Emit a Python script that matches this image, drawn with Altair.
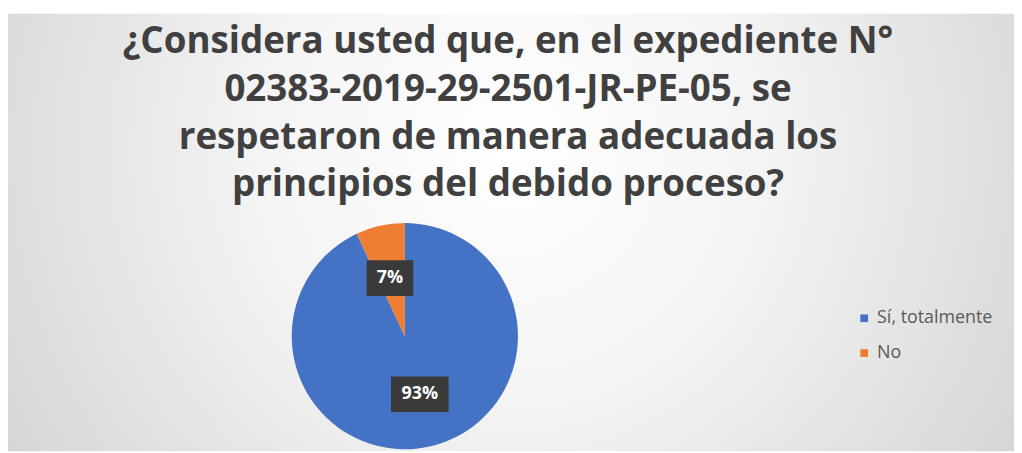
import altair as alt
import pandas as pd

# ---- data ----
categories = ["Sí, totalmente", "No"]
values = [93, 7]
labels = ["93%", "7%"]
colors = ["#4472C4", "#ED7D31"]
title_lines = [
    "¿Considera usted que, en el expediente N°",
    "02383-2019-29-2501-JR-PE-05, se",
    "respetaron de manera adecuada los",
    "principios del debido proceso?",
]

df = pd.DataFrame({
    "category": categories,
    "value": values,
    "label": labels,
    "order": list(range(len(categories))),
})

W, H = 1014, 445
CX, CY, R = 400, 329, 114
RL = 60  # label radius

base = alt.Chart(df).transform_window(
    cum="sum(value)", sort=[alt.SortField("order")]
).transform_joinaggregate(total="sum(value)").transform_calculate(
    mid="(datum.cum - datum.value/2) / datum.total * 2 * PI",
    lx=f"{CX} + 1.15 * {RL} * sin(datum.mid)",
    ly=f"{CY} - {RL} * cos(datum.mid)",
    hw="12.5 + 5.5 * length(datum.label)",
    bx1="datum.lx - datum.hw",
    bx2="datum.lx + datum.hw",
    by1="datum.ly - 18",
    by2="datum.ly + 18",
)

gradient = alt.Gradient(
    gradient="radial",
    x1=0.5, y1=0.42, x2=0.5, y2=0.42, r1=0, r2=0.72,
    stops=[
        alt.GradientStop(offset=0, color="#ffffff"),
        alt.GradientStop(offset=0.35, color="#f4f4f4"),
        alt.GradientStop(offset=1, color="#c9c9c9"),
    ],
)

bg = alt.Chart(alt.Data(values=[{}])).mark_rect(fill=gradient).encode(
    x=alt.value(0), x2=alt.value(W), y=alt.value(4), y2=alt.value(H)
)

pie = base.mark_arc(outerRadius=R).encode(
    theta=alt.Theta("value:Q", stack=True),
    color=alt.Color(
        "category:N",
        scale=alt.Scale(domain=categories, range=colors),
        sort=categories,
        legend=alt.Legend(
            title=None,
            orient="none",
            legendX=854,
            legendY=302,
            symbolType="square",
            symbolSize=60,
            symbolStrokeWidth=0,
            labelFont="Open Sans",
            labelFontSize=18,
            labelColor="#595959",
            labelOffset=4,
            rowPadding=17,
        ),
    ),
    order=alt.Order("order:Q"),
    x=alt.value(CX),
    y=alt.value(CY),
)

boxes = base.mark_rect(color="#3a3a3a").encode(
    x=alt.X("bx1:Q", scale=None),
    x2="bx2:Q",
    y=alt.Y("by1:Q", scale=None),
    y2="by2:Q",
)

texts = base.mark_text(
    font="Open Sans", fontWeight="bold", fontSize=18, color="white", baseline="middle"
).encode(
    x=alt.X("lx:Q", scale=None),
    y=alt.Y("ly:Q", scale=None),
    text="label:N",
)

chart = alt.layer(bg, pie, boxes, texts).properties(
    width=W,
    height=H,
    padding=0,
    autosize=alt.AutoSizeParams(type="none"),
    title=alt.Title(
        text=title_lines,
        font="Open Sans",
        fontSize=37,
        fontWeight="bold",
        color="#404040",
        anchor="start",
        align="center",
        baseline="top",
        lineHeight=48,
        offset=-196,
        dx=504,
    ),
).configure_view(stroke=None)

chart.save("out.html", embed_options={"renderer": "svg", "actions": False})
